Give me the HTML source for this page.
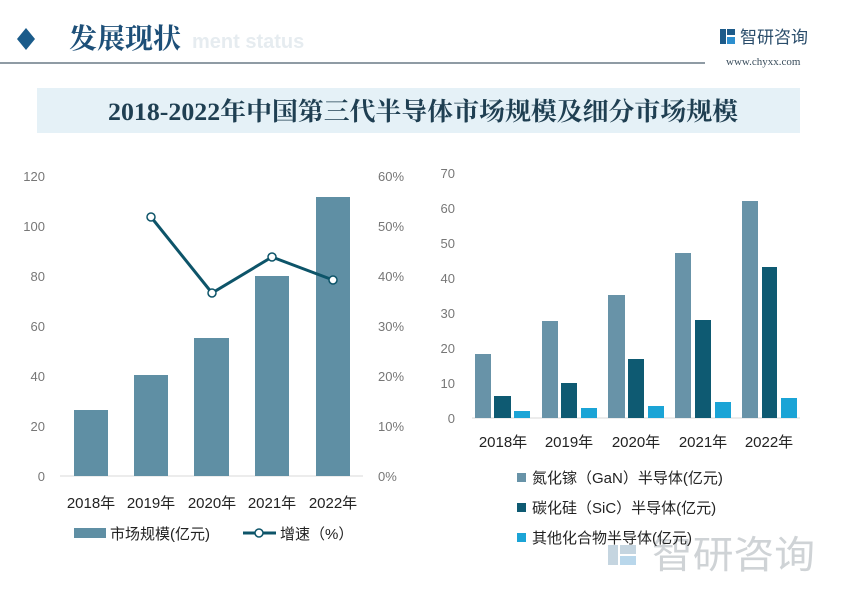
<!DOCTYPE html>
<html><head><meta charset="utf-8"><style>
html,body{margin:0;padding:0;background:#fff;}
svg{display:block;}
</style></head><body>
<svg width="861" height="591" viewBox="0 0 861 591" xmlns="http://www.w3.org/2000/svg" font-family="Liberation Sans, Noto Sans CJK SC, sans-serif">
<rect width="861" height="591" fill="#fff"/>
<!-- header -->
<polygon points="26,28 35,39 26,50 17,39" fill="#1a5b8a"/>
<text x="69" y="48" font-size="28" fill="#1d4f78" font-family="Liberation Serif, Noto Serif CJK SC, serif" font-weight="bold">发展现状</text>
<text x="192" y="48" font-size="20" fill="#e6ecf0" font-weight="bold">ment status</text>
<line x1="0" y1="63" x2="705" y2="63" stroke="#6a7a86" stroke-width="1.5"/>
<rect x="720" y="29" width="6" height="15" fill="#1d5b8a"/><rect x="727" y="29" width="8" height="6" fill="#1d5b8a"/><rect x="727" y="37" width="8" height="7" fill="#2d8fcf"/>
<text x="740" y="43" font-size="17" fill="#2a4d6b">智研咨询</text>
<text x="726" y="65" font-size="11" fill="#3a4d5c" font-family="Liberation Serif, serif">www.chyxx.com</text>
<rect x="37" y="88" width="763" height="45" fill="#e5f1f7"/>
<text x="423" y="120" font-size="25" font-weight="bold" fill="#1f3f52" text-anchor="middle" font-family="Liberation Serif, Noto Serif CJK SC, serif" textLength="630" lengthAdjust="spacingAndGlyphs">2018-2022年中国第三代半导体市场规模及细分市场规模</text>

<!-- left chart -->
<g font-size="13" fill="#777">
<text x="45" y="181" text-anchor="end">120</text>
<text x="45" y="231" text-anchor="end">100</text>
<text x="45" y="281" text-anchor="end">80</text>
<text x="45" y="331" text-anchor="end">60</text>
<text x="45" y="381" text-anchor="end">40</text>
<text x="45" y="431" text-anchor="end">20</text>
<text x="45" y="481" text-anchor="end">0</text>
<text x="378" y="181">60%</text>
<text x="378" y="231">50%</text>
<text x="378" y="281">40%</text>
<text x="378" y="331">30%</text>
<text x="378" y="381">20%</text>
<text x="378" y="431">10%</text>
<text x="378" y="481">0%</text>
</g>
<line x1="60" y1="476" x2="363" y2="476" stroke="#d9d9d9"/>
<g fill="#5f8fa4">
<rect x="74" y="410" width="34" height="66"/>
<rect x="134" y="375" width="34" height="101"/>
<rect x="194" y="338" width="35" height="138"/>
<rect x="255" y="276" width="34" height="200"/>
<rect x="316" y="197" width="34" height="279"/>
</g>
<polyline points="151,217 212,293 272,257 333,280" fill="none" stroke="#0d5469" stroke-width="3"/>
<g fill="#fff" stroke="#0d5469" stroke-width="1.5">
<circle cx="151" cy="217" r="4"/><circle cx="212" cy="293" r="4"/><circle cx="272" cy="257" r="4"/><circle cx="333" cy="280" r="4"/>
</g>
<g font-size="15" fill="#222" text-anchor="middle">
<text x="91" y="508">2018年</text><text x="151" y="508">2019年</text><text x="212" y="508">2020年</text><text x="272" y="508">2021年</text><text x="333" y="508">2022年</text>
</g>
<rect x="74" y="528" width="32" height="10" fill="#5f8fa4"/>
<text x="110" y="539" font-size="15" fill="#222">市场规模(亿元)</text>
<line x1="243" y1="533" x2="276" y2="533" stroke="#0d5469" stroke-width="3"/>
<circle cx="259" cy="533" r="4" fill="#fff" stroke="#0d5469" stroke-width="1.5"/>
<text x="280" y="539" font-size="15" fill="#222">增速（%）</text>

<!-- right chart -->
<g font-size="13" fill="#777">
<text x="455" y="178" text-anchor="end">70</text>
<text x="455" y="213" text-anchor="end">60</text>
<text x="455" y="248" text-anchor="end">50</text>
<text x="455" y="283" text-anchor="end">40</text>
<text x="455" y="318" text-anchor="end">30</text>
<text x="455" y="353" text-anchor="end">20</text>
<text x="455" y="388" text-anchor="end">10</text>
<text x="455" y="423" text-anchor="end">0</text>
</g>
<line x1="472" y1="418" x2="800" y2="418" stroke="#d9d9d9"/>
<g fill="#6893a8">
<rect x="475" y="354" width="16" height="64"/><rect x="542" y="321" width="16" height="97"/><rect x="608" y="295" width="17" height="123"/><rect x="675" y="253" width="16" height="165"/><rect x="742" y="201" width="16" height="217"/>
</g>
<g fill="#0e5a72">
<rect x="494" y="396" width="17" height="22"/><rect x="561" y="383" width="16" height="35"/><rect x="628" y="359" width="16" height="59"/><rect x="695" y="320" width="16" height="98"/><rect x="762" y="267" width="15" height="151"/>
</g>
<g fill="#1ba4d6">
<rect x="514" y="411" width="16" height="7"/><rect x="581" y="408" width="16" height="10"/><rect x="648" y="406" width="16" height="12"/><rect x="715" y="402" width="16" height="16"/><rect x="781" y="398" width="16" height="20"/>
</g>
<g font-size="15" fill="#222" text-anchor="middle">
<text x="503" y="447">2018年</text><text x="569" y="447">2019年</text><text x="636" y="447">2020年</text><text x="703" y="447">2021年</text><text x="769" y="447">2022年</text>
</g>
<!-- watermark -->
<rect x="608" y="545" width="10" height="20" fill="#b7cbd8" opacity="0.8"/>
<rect x="620" y="545" width="16" height="9" fill="#b7cbd8" opacity="0.8"/>
<rect x="620" y="556" width="16" height="9" fill="#a8cde6" opacity="0.8"/>
<text x="652" y="568" font-size="38" fill="#cfd3d6" textLength="163" lengthAdjust="spacingAndGlyphs">智研咨询</text>

<rect x="517" y="473" width="9" height="9" fill="#6893a8"/>
<text x="532" y="483" font-size="15" fill="#222">氮化镓（GaN）半导体(亿元)</text>
<rect x="517" y="503" width="9" height="9" fill="#0e5a72"/>
<text x="532" y="513" font-size="15" fill="#222">碳化硅（SiC）半导体(亿元)</text>
<rect x="517" y="533" width="9" height="9" fill="#1ba4d6"/>
<text x="532" y="543" font-size="15" fill="#222">其他化合物半导体(亿元)</text>
</svg>
</body></html>
